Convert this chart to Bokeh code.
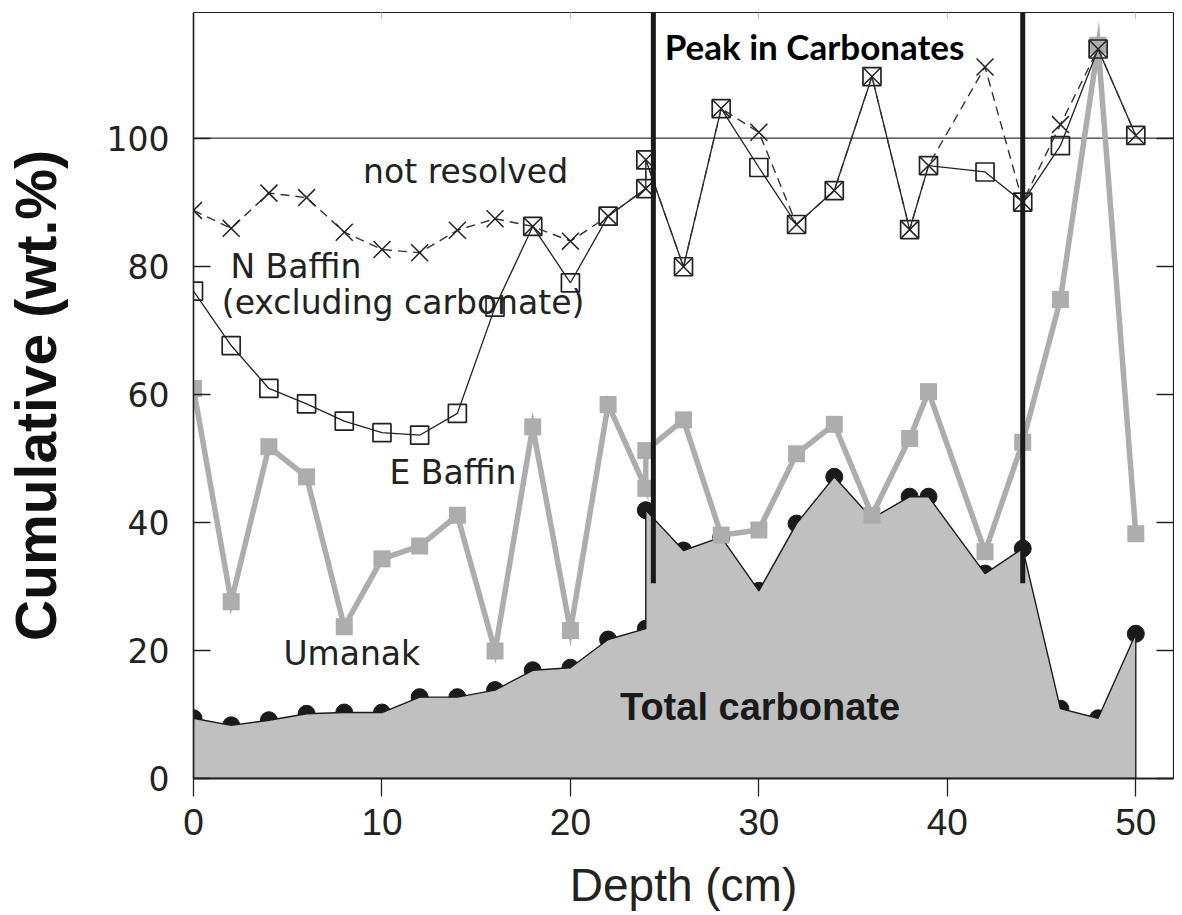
from bokeh.plotting import figure
from bokeh.models import LinearAxis, FixedTicker, Range1d, Span, Label
from bokeh.embed import file_html
from bokeh.resources import INLINE

# ---- data ----
depth = [0, 2, 4, 6, 8, 10, 12, 14, 16, 18, 20, 22, 24, 24, 26, 28, 30, 32, 34, 36, 38, 39, 42, 44, 46, 48, 50]
total_carbonate = [9.4, 8.3, 9.1, 10.1, 10.3, 10.3, 12.7, 12.7, 13.8, 16.9, 17.3, 21.7, 23.4, 41.9,
                   35.6, 37.7, 29.3, 39.8, 47.1, 40.6, 44.0, 44.0, 32.0, 35.9, 10.9, 9.4, 22.6]
e_baffin = [60.9, 27.6, 51.8, 47.1, 23.7, 34.3, 36.3, 41.1, 19.9, 54.9, 23.1, 58.4, 45.3, 51.2,
            56.0, 38.0, 38.8, 50.7, 55.3, 41.1, 53.1, 60.4, 35.4, 52.5, 74.8, 114.5, 38.2]
n_baffin = [76.1, 67.6, 60.9, 58.5, 55.8, 54.0, 53.6, 57.0, 73.6, 86.2, 77.4, 87.8, 92.1, 96.6,
            79.9, 104.6, 95.4, 86.5, 91.8, 109.6, 85.7, 95.7, 94.7, 90.0, 98.8, 113.9, 100.4]
not_resolved = [88.7, 85.9, 91.4, 90.7, 85.3, 82.6, 82.1, 85.6, 87.4, 86.2, 83.9, 87.8, 92.1, 96.6,
                79.9, 104.6, 100.9, 86.5, 91.8, 109.6, 85.7, 95.7, 111.1, 90.0, 102.1, 113.9, 100.4]
peak_bounds = [24.4, 44.0]
peak_line_bottom = 30.5
x_ticks = [0, 10, 20, 30, 40, 50]
y_ticks = [0, 20, 40, 60, 80, 100]
x_max = 52
y_max = 119.6
reference_level = 100

DARK = "#222222"
GRAY = "#adadad"
FILL = "#c0c0c0"

p = figure(frame_width=980, frame_height=766,
           x_range=Range1d(0, x_max), y_range=Range1d(0, y_max),
           output_backend="svg", toolbar_location=None,
           min_border_left=193, min_border_right=1, min_border_top=12, min_border_bottom=136,
           background_fill_color="white", border_fill_color="white",
           outline_line_color=DARK, outline_line_width=1.2)
p.grid.visible = False

# bottom axis
xa = p.xaxis[0]
xa.ticker = FixedTicker(ticks=x_ticks)
xa.major_tick_in = 0
xa.major_tick_out = 18
xa.minor_tick_line_color = None
xa.major_tick_line_color = DARK
xa.major_tick_line_width = 1.3
xa.axis_line_color = DARK
xa.axis_line_width = 2
xa.major_label_text_font = "Liberation Sans"
xa.major_label_text_font_size = "37px"
xa.major_label_text_color = DARK
xa.major_label_standoff = 12
xa.axis_label = "Depth (cm)"
xa.axis_label_text_font = "Liberation Sans"
xa.axis_label_text_font_style = "normal"
xa.axis_label_text_font_size = "46px"
xa.axis_label_text_color = DARK
xa.axis_label_standoff = 21

# left axis
ya = p.yaxis[0]
ya.ticker = FixedTicker(ticks=y_ticks)
ya.major_tick_in = 17
ya.major_tick_out = 0
ya.minor_tick_line_color = None
ya.major_tick_line_color = DARK
ya.major_tick_line_width = 1.3
ya.axis_line_color = DARK
ya.axis_line_width = 1.5
ya.major_label_text_font = "DejaVu Sans"
ya.major_label_text_font_size = "33px"
ya.major_label_text_color = DARK
ya.major_label_standoff = 24
ya.axis_label = "Cumulative (wt.%)"
ya.axis_label_text_font = "Liberation Sans"
ya.axis_label_text_font_style = "bold"
ya.axis_label_text_font_size = "57px"
ya.axis_label_text_color = "#111111"
ya.axis_label_standoff = 36

# right axis: inward ticks only
ra = LinearAxis(ticker=FixedTicker(ticks=y_ticks), major_tick_in=17, major_tick_out=0,
                major_label_text_font_size="0px", major_label_standoff=0,
                major_label_overrides={t: "" for t in y_ticks},
                axis_line_color=None, minor_tick_line_color=None,
                major_tick_line_color=DARK, major_tick_line_width=1.3)
p.add_layout(ra, "right")

# top axis: faint inward ticks
ta = LinearAxis(ticker=FixedTicker(ticks=x_ticks), major_tick_in=6, major_tick_out=0,
                major_label_text_font_size="0px", major_label_standoff=0,
                major_label_overrides={t: "" for t in x_ticks},
                axis_line_color=None, minor_tick_line_color=None,
                major_tick_line_color="#bbbbbb", major_tick_line_width=1)
p.add_layout(ta, "above")

# 100 % reference line
p.add_layout(Span(location=reference_level, dimension="width", line_color="#333333",
                  line_width=1.2, level="underlay"))

# total carbonate: dots first, then the filled area over them, then the outline
p.scatter(depth, total_carbonate, marker="circle", size=17, fill_color="#1a1a1a", line_color="#1a1a1a")
p.patch(depth + [depth[-1], depth[0]], total_carbonate + [0, 0],
        fill_color=FILL, line_color="#1a1a1a", line_width=1.4)

# E Baffin (grey)
p.line(depth, e_baffin, line_color=GRAY, line_width=5.5, line_join="miter")
p.scatter(depth, e_baffin, marker="square", size=17, fill_color=GRAY, line_color=None)

# N Baffin (open squares)
p.line(depth, n_baffin, line_color=DARK, line_width=1.3)
p.scatter(depth, n_baffin, marker="square", size=18, fill_color=None, line_color=DARK, line_width=1.7)

# not resolved (x, dashed)
p.line(depth, not_resolved, line_color="#333333", line_width=1.4, line_dash="9 6")
p.scatter(depth, not_resolved, marker="x", size=24, line_color=DARK, line_width=1.5)

# carbonate peak boundaries
p.segment(x0=peak_bounds, y0=[peak_line_bottom] * len(peak_bounds),
          x1=peak_bounds, y1=[y_max] * len(peak_bounds),
          line_color="#1a1a1a", line_width=5)

# annotations
def add_label(x, y, text, font, size, style="normal", color=DARK):
    p.add_layout(Label(x=x, y=y, text=text, text_font=font, text_font_size=size,
                       text_font_style=style, text_color=color,
                       text_align="left", text_baseline="alphabetic"))

add_label(25.0, 114.4, "Peak in Carbonates", "Lato", "35px", "bold", "#000000")
add_label(9.0, 94.7, "not resolved", "DejaVu Sans", "33px")
add_label(1.96, 79.9, "N Baffin", "DejaVu Sans", "33px")
add_label(1.5, 74.3, "(excluding carbonate)", "DejaVu Sans", "33px")
add_label(10.4, 47.7, "E Baffin", "DejaVu Sans", "33px")
add_label(4.77, 19.5, "Umanak", "DejaVu Sans", "33px")
add_label(22.63, 11.2, "Total carbonate", "Liberation Sans", "38px", "bold", "#1a1a1a")

open("out.html", "w").write(file_html(p, INLINE))
